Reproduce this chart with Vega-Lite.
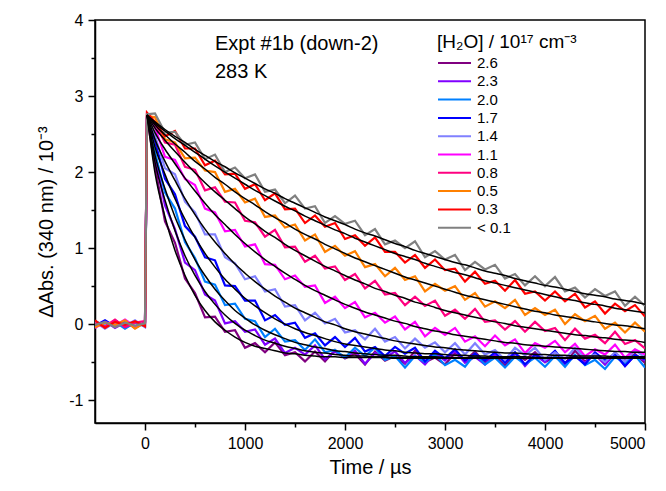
{
"$schema":"https://vega.github.io/schema/vega-lite/v6.json",
"width":550,"height":403,
"autosize":{"type":"none"},
"padding":{"left":95,"top":20,"right":21,"bottom":68},
"config":{"font":"Liberation Sans","view":{"stroke":"#000","strokeWidth":1.5},
"axis":{"grid":false,"domainColor":"#000","domainWidth":1.5,"tickColor":"#000","tickWidth":1.5,"labelColor":"#000","titleColor":"#000","labelFontSize":16,"titleFontSize":20,"titleFontWeight":"normal"}},
"datasets":{"d":[
{"s":"2.6","t":-500,"y":0.02},{"s":"2.6","t":-400,"y":-0.04},{"s":"2.6","t":-300,"y":0.05},{"s":"2.6","t":-200,"y":-0.03},{"s":"2.6","t":-100,"y":0.03},{"s":"2.6","t":0,"y":-0.02},{"s":"2.6","t":20,"y":2.72,"f":2.75},
{"s":"2.6","t":100,"y":2.07,"f":1.99},{"s":"2.6","t":200,"y":1.35,"f":1.41},{"s":"2.6","t":300,"y":1.07,"f":0.97},{"s":"2.6","t":400,"y":0.60,"f":0.64},{"s":"2.6","t":500,"y":0.41,"f":0.38},{"s":"2.6","t":600,"y":0.09,"f":0.18},{"s":"2.6","t":700,"y":0.10,"f":0.03},{"s":"2.6","t":800,"y":-0.10,"f":-0.08},{"s":"2.6","t":900,"y":-0.08,"f":-0.17},{"s":"2.6","t":1000,"y":-0.31,"f":-0.24},
{"s":"2.6","t":1100,"y":-0.25,"f":-0.29},{"s":"2.6","t":1200,"y":-0.37,"f":-0.32},{"s":"2.6","t":1300,"y":-0.24,"f":-0.35},{"s":"2.6","t":1400,"y":-0.41,"f":-0.38},{"s":"2.6","t":1500,"y":-0.37,"f":-0.39},{"s":"2.6","t":1600,"y":-0.49,"f":-0.41},{"s":"2.6","t":1700,"y":-0.36,"f":-0.42},{"s":"2.6","t":1800,"y":-0.49,"f":-0.43},{"s":"2.6","t":1900,"y":-0.34,"f":-0.43},{"s":"2.6","t":2000,"y":-0.45,"f":-0.44},
{"s":"2.6","t":2100,"y":-0.39,"f":-0.44},{"s":"2.6","t":2200,"y":-0.53,"f":-0.44},{"s":"2.6","t":2300,"y":-0.36,"f":-0.44},{"s":"2.6","t":2400,"y":-0.48,"f":-0.44},{"s":"2.6","t":2500,"y":-0.42,"f":-0.45},{"s":"2.6","t":2600,"y":-0.52,"f":-0.45},{"s":"2.6","t":2700,"y":-0.35,"f":-0.45},{"s":"2.6","t":2800,"y":-0.50,"f":-0.45},{"s":"2.6","t":2900,"y":-0.44,"f":-0.45},{"s":"2.6","t":3000,"y":-0.53,"f":-0.45},
{"s":"2.6","t":3100,"y":-0.38,"f":-0.45},{"s":"2.6","t":3200,"y":-0.48,"f":-0.45},{"s":"2.6","t":3300,"y":-0.36,"f":-0.45},{"s":"2.6","t":3400,"y":-0.51,"f":-0.45},{"s":"2.6","t":3500,"y":-0.41,"f":-0.45},{"s":"2.6","t":3600,"y":-0.55,"f":-0.45},{"s":"2.6","t":3700,"y":-0.39,"f":-0.45},{"s":"2.6","t":3800,"y":-0.47,"f":-0.45},{"s":"2.6","t":3900,"y":-0.37,"f":-0.45},{"s":"2.6","t":4000,"y":-0.50,"f":-0.45},
{"s":"2.6","t":4100,"y":-0.43,"f":-0.45},{"s":"2.6","t":4200,"y":-0.52,"f":-0.45},{"s":"2.6","t":4300,"y":-0.35,"f":-0.45},{"s":"2.6","t":4400,"y":-0.49,"f":-0.45},{"s":"2.6","t":4500,"y":-0.40,"f":-0.45},{"s":"2.6","t":4600,"y":-0.53,"f":-0.45},{"s":"2.6","t":4700,"y":-0.38,"f":-0.45},{"s":"2.6","t":4800,"y":-0.48,"f":-0.45},{"s":"2.6","t":4900,"y":-0.39,"f":-0.45},{"s":"2.6","t":5000,"y":-0.51,"f":-0.45},

{"s":"2.3","t":-500,"y":-0.03},{"s":"2.3","t":-400,"y":0.04},{"s":"2.3","t":-300,"y":-0.05},{"s":"2.3","t":-200,"y":0.02},{"s":"2.3","t":-100,"y":-0.04},{"s":"2.3","t":0,"y":0.03},{"s":"2.3","t":20,"y":2.74,"f":2.75},
{"s":"2.3","t":100,"y":2.22,"f":2.13},{"s":"2.3","t":200,"y":1.56,"f":1.63},{"s":"2.3","t":300,"y":1.25,"f":1.23},{"s":"2.3","t":400,"y":0.81,"f":0.90},{"s":"2.3","t":500,"y":0.71,"f":0.64},{"s":"2.3","t":600,"y":0.39,"f":0.43},{"s":"2.3","t":700,"y":0.31,"f":0.26},{"s":"2.3","t":800,"y":0.01,"f":0.12},{"s":"2.3","t":900,"y":0.04,"f":0.01},{"s":"2.3","t":1000,"y":-0.10,"f":-0.08},
{"s":"2.3","t":1100,"y":-0.07,"f":-0.15},{"s":"2.3","t":1200,"y":-0.27,"f":-0.21},{"s":"2.3","t":1300,"y":-0.19,"f":-0.25},{"s":"2.3","t":1400,"y":-0.38,"f":-0.29},{"s":"2.3","t":1500,"y":-0.31,"f":-0.32},{"s":"2.3","t":1600,"y":-0.40,"f":-0.35},{"s":"2.3","t":1700,"y":-0.28,"f":-0.37},{"s":"2.3","t":1800,"y":-0.46,"f":-0.38},{"s":"2.3","t":1900,"y":-0.36,"f":-0.40},{"s":"2.3","t":2000,"y":-0.44,"f":-0.41},
{"s":"2.3","t":2100,"y":-0.35,"f":-0.42},{"s":"2.3","t":2200,"y":-0.52,"f":-0.42},{"s":"2.3","t":2300,"y":-0.38,"f":-0.43},{"s":"2.3","t":2400,"y":-0.44,"f":-0.43},{"s":"2.3","t":2500,"y":-0.36,"f":-0.44},{"s":"2.3","t":2600,"y":-0.51,"f":-0.44},{"s":"2.3","t":2700,"y":-0.41,"f":-0.44},{"s":"2.3","t":2800,"y":-0.53,"f":-0.44},{"s":"2.3","t":2900,"y":-0.38,"f":-0.44},{"s":"2.3","t":3000,"y":-0.48,"f":-0.44},
{"s":"2.3","t":3100,"y":-0.35,"f":-0.45},{"s":"2.3","t":3200,"y":-0.51,"f":-0.45},{"s":"2.3","t":3300,"y":-0.43,"f":-0.45},{"s":"2.3","t":3400,"y":-0.53,"f":-0.45},{"s":"2.3","t":3500,"y":-0.40,"f":-0.45},{"s":"2.3","t":3600,"y":-0.47,"f":-0.45},{"s":"2.3","t":3700,"y":-0.38,"f":-0.45},{"s":"2.3","t":3800,"y":-0.55,"f":-0.45},{"s":"2.3","t":3900,"y":-0.41,"f":-0.45},{"s":"2.3","t":4000,"y":-0.50,"f":-0.45},
{"s":"2.3","t":4100,"y":-0.37,"f":-0.45},{"s":"2.3","t":4200,"y":-0.52,"f":-0.45},{"s":"2.3","t":4300,"y":-0.42,"f":-0.45},{"s":"2.3","t":4400,"y":-0.51,"f":-0.45},{"s":"2.3","t":4500,"y":-0.39,"f":-0.45},{"s":"2.3","t":4600,"y":-0.53,"f":-0.45},{"s":"2.3","t":4700,"y":-0.39,"f":-0.45},{"s":"2.3","t":4800,"y":-0.55,"f":-0.45},{"s":"2.3","t":4900,"y":-0.41,"f":-0.45},{"s":"2.3","t":5000,"y":-0.48,"f":-0.45},

{"s":"2.0","t":-500,"y":0.04},{"s":"2.0","t":-400,"y":-0.02},{"s":"2.0","t":-300,"y":0.03},{"s":"2.0","t":-200,"y":-0.06},{"s":"2.0","t":-100,"y":0.02},{"s":"2.0","t":0,"y":-0.03},{"s":"2.0","t":20,"y":2.71,"f":2.75},
{"s":"2.0","t":100,"y":2.26,"f":2.22},{"s":"2.0","t":200,"y":1.73,"f":1.78},{"s":"2.0","t":300,"y":1.52,"f":1.41},{"s":"2.0","t":400,"y":1.08,"f":1.11},{"s":"2.0","t":500,"y":0.87,"f":0.85},{"s":"2.0","t":600,"y":0.56,"f":0.64},{"s":"2.0","t":700,"y":0.52,"f":0.46},{"s":"2.0","t":800,"y":0.25,"f":0.31},{"s":"2.0","t":900,"y":0.27,"f":0.18},{"s":"2.0","t":1000,"y":0.07,"f":0.08},
{"s":"2.0","t":1100,"y":0.04,"f":-0.01},{"s":"2.0","t":1200,"y":-0.17,"f":-0.08},{"s":"2.0","t":1300,"y":-0.06,"f":-0.14},{"s":"2.0","t":1400,"y":-0.23,"f":-0.19},{"s":"2.0","t":1500,"y":-0.21,"f":-0.24},{"s":"2.0","t":1600,"y":-0.34,"f":-0.27},{"s":"2.0","t":1700,"y":-0.20,"f":-0.30},{"s":"2.0","t":1800,"y":-0.37,"f":-0.32},{"s":"2.0","t":1900,"y":-0.34,"f":-0.35},{"s":"2.0","t":2000,"y":-0.44,"f":-0.36},
{"s":"2.0","t":2100,"y":-0.31,"f":-0.38},{"s":"2.0","t":2200,"y":-0.42,"f":-0.39},{"s":"2.0","t":2300,"y":-0.31,"f":-0.40},{"s":"2.0","t":2400,"y":-0.47,"f":-0.41},{"s":"2.0","t":2500,"y":-0.42,"f":-0.41},{"s":"2.0","t":2600,"y":-0.57,"f":-0.42},{"s":"2.0","t":2700,"y":-0.42,"f":-0.43},{"s":"2.0","t":2800,"y":-0.50,"f":-0.43},{"s":"2.0","t":2900,"y":-0.40,"f":-0.43},{"s":"2.0","t":3000,"y":-0.54,"f":-0.44},
{"s":"2.0","t":3100,"y":-0.47,"f":-0.44},{"s":"2.0","t":3200,"y":-0.56,"f":-0.44},{"s":"2.0","t":3300,"y":-0.39,"f":-0.44},{"s":"2.0","t":3400,"y":-0.53,"f":-0.44},{"s":"2.0","t":3500,"y":-0.44,"f":-0.44},{"s":"2.0","t":3600,"y":-0.57,"f":-0.44},{"s":"2.0","t":3700,"y":-0.43,"f":-0.45},{"s":"2.0","t":3800,"y":-0.53,"f":-0.45},{"s":"2.0","t":3900,"y":-0.44,"f":-0.45},{"s":"2.0","t":4000,"y":-0.56,"f":-0.45},
{"s":"2.0","t":4100,"y":-0.42,"f":-0.45},{"s":"2.0","t":4200,"y":-0.56,"f":-0.45},{"s":"2.0","t":4300,"y":-0.40,"f":-0.45},{"s":"2.0","t":4400,"y":-0.54,"f":-0.45},{"s":"2.0","t":4500,"y":-0.47,"f":-0.45},{"s":"2.0","t":4600,"y":-0.59,"f":-0.45},{"s":"2.0","t":4700,"y":-0.43,"f":-0.45},{"s":"2.0","t":4800,"y":-0.52,"f":-0.45},{"s":"2.0","t":4900,"y":-0.41,"f":-0.45},{"s":"2.0","t":5000,"y":-0.57,"f":-0.45},

{"s":"1.7","t":-500,"y":-0.02},{"s":"1.7","t":-400,"y":0.05},{"s":"1.7","t":-300,"y":-0.03},{"s":"1.7","t":-200,"y":0.04},{"s":"1.7","t":-100,"y":-0.05},{"s":"1.7","t":0,"y":0.02},{"s":"1.7","t":20,"y":2.73,"f":2.75},
{"s":"1.7","t":100,"y":2.41,"f":2.33},{"s":"1.7","t":200,"y":1.91,"f":1.97},{"s":"1.7","t":300,"y":1.71,"f":1.65},{"s":"1.7","t":400,"y":1.29,"f":1.38},{"s":"1.7","t":500,"y":1.15,"f":1.14},{"s":"1.7","t":600,"y":0.88,"f":0.93},{"s":"1.7","t":700,"y":0.84,"f":0.75},{"s":"1.7","t":800,"y":0.51,"f":0.59},{"s":"1.7","t":900,"y":0.50,"f":0.46},{"s":"1.7","t":1000,"y":0.31,"f":0.34},
{"s":"1.7","t":1100,"y":0.31,"f":0.24},{"s":"1.7","t":1200,"y":0.05,"f":0.15},{"s":"1.7","t":1300,"y":0.12,"f":0.07},{"s":"1.7","t":1400,"y":-0.01,"f":0.00},{"s":"1.7","t":1500,"y":0.02,"f":-0.06},{"s":"1.7","t":1600,"y":-0.18,"f":-0.11},{"s":"1.7","t":1700,"y":-0.12,"f":-0.15},{"s":"1.7","t":1800,"y":-0.28,"f":-0.19},{"s":"1.7","t":1900,"y":-0.17,"f":-0.23},{"s":"1.7","t":2000,"y":-0.30,"f":-0.26},
{"s":"1.7","t":2100,"y":-0.18,"f":-0.28},{"s":"1.7","t":2200,"y":-0.36,"f":-0.30},{"s":"1.7","t":2300,"y":-0.30,"f":-0.32},{"s":"1.7","t":2400,"y":-0.42,"f":-0.34},{"s":"1.7","t":2500,"y":-0.30,"f":-0.35},{"s":"1.7","t":2600,"y":-0.39,"f":-0.37},{"s":"1.7","t":2700,"y":-0.31,"f":-0.38},{"s":"1.7","t":2800,"y":-0.49,"f":-0.39},{"s":"1.7","t":2900,"y":-0.35,"f":-0.39},{"s":"1.7","t":3000,"y":-0.45,"f":-0.40},
{"s":"1.7","t":3100,"y":-0.33,"f":-0.41},{"s":"1.7","t":3200,"y":-0.48,"f":-0.41},{"s":"1.7","t":3300,"y":-0.39,"f":-0.42},{"s":"1.7","t":3400,"y":-0.48,"f":-0.42},{"s":"1.7","t":3500,"y":-0.37,"f":-0.43},{"s":"1.7","t":3600,"y":-0.51,"f":-0.43},{"s":"1.7","t":3700,"y":-0.37,"f":-0.43},{"s":"1.7","t":3800,"y":-0.53,"f":-0.43},{"s":"1.7","t":3900,"y":-0.40,"f":-0.44},{"s":"1.7","t":4000,"y":-0.47,"f":-0.44},
{"s":"1.7","t":4100,"y":-0.35,"f":-0.44},{"s":"1.7","t":4200,"y":-0.51,"f":-0.44},{"s":"1.7","t":4300,"y":-0.42,"f":-0.44},{"s":"1.7","t":4400,"y":-0.53,"f":-0.44},{"s":"1.7","t":4500,"y":-0.37,"f":-0.44},{"s":"1.7","t":4600,"y":-0.48,"f":-0.44},{"s":"1.7","t":4700,"y":-0.39,"f":-0.44},{"s":"1.7","t":4800,"y":-0.55,"f":-0.44},{"s":"1.7","t":4900,"y":-0.41,"f":-0.44},{"s":"1.7","t":5000,"y":-0.46,"f":-0.44},

{"s":"1.4","t":-500,"y":0.03},{"s":"1.4","t":-400,"y":-0.06},{"s":"1.4","t":-300,"y":0.02},{"s":"1.4","t":-200,"y":-0.02},{"s":"1.4","t":-100,"y":0.05},{"s":"1.4","t":0,"y":-0.04},{"s":"1.4","t":20,"y":2.70,"f":2.75},
{"s":"1.4","t":100,"y":2.48,"f":2.43},{"s":"1.4","t":200,"y":2.05,"f":2.14},{"s":"1.4","t":300,"y":1.97,"f":1.89},{"s":"1.4","t":400,"y":1.61,"f":1.65},{"s":"1.4","t":500,"y":1.47,"f":1.44},{"s":"1.4","t":600,"y":1.18,"f":1.25},{"s":"1.4","t":700,"y":1.18,"f":1.08},{"s":"1.4","t":800,"y":0.88,"f":0.93},{"s":"1.4","t":900,"y":0.80,"f":0.79},{"s":"1.4","t":1000,"y":0.59,"f":0.67},
{"s":"1.4","t":1100,"y":0.63,"f":0.56},{"s":"1.4","t":1200,"y":0.43,"f":0.46},{"s":"1.4","t":1300,"y":0.46,"f":0.37},{"s":"1.4","t":1400,"y":0.23,"f":0.29},{"s":"1.4","t":1500,"y":0.25,"f":0.21},{"s":"1.4","t":1600,"y":0.05,"f":0.15},{"s":"1.4","t":1700,"y":0.15,"f":0.09},{"s":"1.4","t":1800,"y":0.01,"f":0.03},{"s":"1.4","t":1900,"y":0.07,"f":-0.01},{"s":"1.4","t":2000,"y":-0.11,"f":-0.06},
{"s":"1.4","t":2100,"y":-0.08,"f":-0.10},{"s":"1.4","t":2200,"y":-0.20,"f":-0.13},{"s":"1.4","t":2300,"y":-0.06,"f":-0.16},{"s":"1.4","t":2400,"y":-0.23,"f":-0.19},{"s":"1.4","t":2500,"y":-0.17,"f":-0.22},{"s":"1.4","t":2600,"y":-0.32,"f":-0.24},{"s":"1.4","t":2700,"y":-0.19,"f":-0.26},{"s":"1.4","t":2800,"y":-0.31,"f":-0.28},{"s":"1.4","t":2900,"y":-0.24,"f":-0.30},{"s":"1.4","t":3000,"y":-0.37,"f":-0.31},
{"s":"1.4","t":3100,"y":-0.25,"f":-0.33},{"s":"1.4","t":3200,"y":-0.40,"f":-0.34},{"s":"1.4","t":3300,"y":-0.25,"f":-0.35},{"s":"1.4","t":3400,"y":-0.40,"f":-0.36},{"s":"1.4","t":3500,"y":-0.34,"f":-0.37},{"s":"1.4","t":3600,"y":-0.47,"f":-0.38},{"s":"1.4","t":3700,"y":-0.31,"f":-0.38},{"s":"1.4","t":3800,"y":-0.41,"f":-0.39},{"s":"1.4","t":3900,"y":-0.31,"f":-0.40},{"s":"1.4","t":4000,"y":-0.47,"f":-0.40},
{"s":"1.4","t":4100,"y":-0.37,"f":-0.41},{"s":"1.4","t":4200,"y":-0.46,"f":-0.41},{"s":"1.4","t":4300,"y":-0.31,"f":-0.42},{"s":"1.4","t":4400,"y":-0.45,"f":-0.42},{"s":"1.4","t":4500,"y":-0.40,"f":-0.42},{"s":"1.4","t":4600,"y":-0.50,"f":-0.42},{"s":"1.4","t":4700,"y":-0.37,"f":-0.43},{"s":"1.4","t":4800,"y":-0.49,"f":-0.43},{"s":"1.4","t":4900,"y":-0.34,"f":-0.43},{"s":"1.4","t":5000,"y":-0.44,"f":-0.43},

{"s":"1.1","t":-500,"y":-0.05},{"s":"1.1","t":-400,"y":0.03},{"s":"1.1","t":-300,"y":-0.02},{"s":"1.1","t":-200,"y":0.06},{"s":"1.1","t":-100,"y":-0.03},{"s":"1.1","t":0,"y":0.01},{"s":"1.1","t":20,"y":2.75,"f":2.75},
{"s":"1.1","t":100,"y":2.59,"f":2.52},{"s":"1.1","t":200,"y":2.20,"f":2.30},{"s":"1.1","t":300,"y":2.16,"f":2.11},{"s":"1.1","t":400,"y":1.91,"f":1.92},{"s":"1.1","t":500,"y":1.83,"f":1.75},{"s":"1.1","t":600,"y":1.52,"f":1.59},{"s":"1.1","t":700,"y":1.47,"f":1.44},{"s":"1.1","t":800,"y":1.22,"f":1.31},{"s":"1.1","t":900,"y":1.24,"f":1.18},{"s":"1.1","t":1000,"y":1.02,"f":1.06},
{"s":"1.1","t":1100,"y":1.05,"f":0.95},{"s":"1.1","t":1200,"y":0.79,"f":0.85},{"s":"1.1","t":1300,"y":0.78,"f":0.76},{"s":"1.1","t":1400,"y":0.59,"f":0.67},{"s":"1.1","t":1500,"y":0.64,"f":0.59},{"s":"1.1","t":1600,"y":0.49,"f":0.51},{"s":"1.1","t":1700,"y":0.51,"f":0.44},{"s":"1.1","t":1800,"y":0.28,"f":0.38},{"s":"1.1","t":1900,"y":0.36,"f":0.32},{"s":"1.1","t":2000,"y":0.21,"f":0.26},
{"s":"1.1","t":2100,"y":0.29,"f":0.21},{"s":"1.1","t":2200,"y":0.09,"f":0.16},{"s":"1.1","t":2300,"y":0.15,"f":0.12},{"s":"1.1","t":2400,"y":0.02,"f":0.08},{"s":"1.1","t":2500,"y":0.10,"f":0.04},{"s":"1.1","t":2600,"y":-0.07,"f":0.01},{"s":"1.1","t":2700,"y":0.03,"f":-0.03},{"s":"1.1","t":2800,"y":-0.16,"f":-0.06},{"s":"1.1","t":2900,"y":-0.05,"f":-0.09},{"s":"1.1","t":3000,"y":-0.14,"f":-0.11},
{"s":"1.1","t":3100,"y":-0.05,"f":-0.14},{"s":"1.1","t":3200,"y":-0.23,"f":-0.16},{"s":"1.1","t":3300,"y":-0.16,"f":-0.18},{"s":"1.1","t":3400,"y":-0.29,"f":-0.20},{"s":"1.1","t":3500,"y":-0.15,"f":-0.22},{"s":"1.1","t":3600,"y":-0.28,"f":-0.24},{"s":"1.1","t":3700,"y":-0.20,"f":-0.25},{"s":"1.1","t":3800,"y":-0.38,"f":-0.27},{"s":"1.1","t":3900,"y":-0.25,"f":-0.28},{"s":"1.1","t":4000,"y":-0.31,"f":-0.29},
{"s":"1.1","t":4100,"y":-0.22,"f":-0.30},{"s":"1.1","t":4200,"y":-0.37,"f":-0.31},{"s":"1.1","t":4300,"y":-0.26,"f":-0.32},{"s":"1.1","t":4400,"y":-0.42,"f":-0.33},{"s":"1.1","t":4500,"y":-0.33,"f":-0.34},{"s":"1.1","t":4600,"y":-0.40,"f":-0.35},{"s":"1.1","t":4700,"y":-0.27,"f":-0.36},{"s":"1.1","t":4800,"y":-0.44,"f":-0.36},{"s":"1.1","t":4900,"y":-0.33,"f":-0.37},{"s":"1.1","t":5000,"y":-0.40,"f":-0.37},

{"s":"0.8","t":-500,"y":0.01},{"s":"0.8","t":-400,"y":-0.03},{"s":"0.8","t":-300,"y":0.06},{"s":"0.8","t":-200,"y":-0.04},{"s":"0.8","t":-100,"y":0.02},{"s":"0.8","t":0,"y":0.04},{"s":"0.8","t":20,"y":2.76,"f":2.75},
{"s":"0.8","t":100,"y":2.65,"f":2.58},{"s":"0.8","t":200,"y":2.39,"f":2.42},{"s":"0.8","t":300,"y":2.36,"f":2.27},{"s":"0.8","t":400,"y":2.07,"f":2.13},{"s":"0.8","t":500,"y":2.03,"f":1.99},{"s":"0.8","t":600,"y":1.76,"f":1.86},{"s":"0.8","t":700,"y":1.80,"f":1.74},{"s":"0.8","t":800,"y":1.61,"f":1.63},{"s":"0.8","t":900,"y":1.60,"f":1.52},{"s":"0.8","t":1000,"y":1.36,"f":1.41},
{"s":"0.8","t":1100,"y":1.34,"f":1.32},{"s":"0.8","t":1200,"y":1.15,"f":1.22},{"s":"0.8","t":1300,"y":1.24,"f":1.14},{"s":"0.8","t":1400,"y":1.01,"f":1.05},{"s":"0.8","t":1500,"y":1.02,"f":0.97},{"s":"0.8","t":1600,"y":0.82,"f":0.90},{"s":"0.8","t":1700,"y":0.90,"f":0.83},{"s":"0.8","t":1800,"y":0.73,"f":0.76},{"s":"0.8","t":1900,"y":0.76,"f":0.70},{"s":"0.8","t":2000,"y":0.58,"f":0.64},
{"s":"0.8","t":2100,"y":0.66,"f":0.58},{"s":"0.8","t":2200,"y":0.47,"f":0.53},{"s":"0.8","t":2300,"y":0.57,"f":0.47},{"s":"0.8","t":2400,"y":0.39,"f":0.43},{"s":"0.8","t":2500,"y":0.41,"f":0.38},{"s":"0.8","t":2600,"y":0.25,"f":0.34},{"s":"0.8","t":2700,"y":0.36,"f":0.29},{"s":"0.8","t":2800,"y":0.24,"f":0.26},{"s":"0.8","t":2900,"y":0.31,"f":0.22},{"s":"0.8","t":3000,"y":0.11,"f":0.18},
{"s":"0.8","t":3100,"y":0.19,"f":0.15},{"s":"0.8","t":3200,"y":0.07,"f":0.12},{"s":"0.8","t":3300,"y":0.20,"f":0.09},{"s":"0.8","t":3400,"y":0.03,"f":0.06},{"s":"0.8","t":3500,"y":0.05,"f":0.03},{"s":"0.8","t":3600,"y":-0.07,"f":0.01},{"s":"0.8","t":3700,"y":0.04,"f":-0.02},{"s":"0.8","t":3800,"y":-0.10,"f":-0.04},{"s":"0.8","t":3900,"y":0.03,"f":-0.06},{"s":"0.8","t":4000,"y":-0.09,"f":-0.08},
{"s":"0.8","t":4100,"y":-0.05,"f":-0.10},{"s":"0.8","t":4200,"y":-0.21,"f":-0.12},{"s":"0.8","t":4300,"y":-0.06,"f":-0.14},{"s":"0.8","t":4400,"y":-0.19,"f":-0.15},{"s":"0.8","t":4500,"y":-0.14,"f":-0.17},{"s":"0.8","t":4600,"y":-0.25,"f":-0.18},{"s":"0.8","t":4700,"y":-0.10,"f":-0.20},{"s":"0.8","t":4800,"y":-0.26,"f":-0.21},{"s":"0.8","t":4900,"y":-0.21,"f":-0.22},{"s":"0.8","t":5000,"y":-0.32,"f":-0.24},

{"s":"0.5","t":-500,"y":-0.04},{"s":"0.5","t":-400,"y":0.02},{"s":"0.5","t":-300,"y":-0.01},{"s":"0.5","t":-200,"y":0.05},{"s":"0.5","t":-100,"y":-0.06},{"s":"0.5","t":0,"y":0.02},{"s":"0.5","t":20,"y":2.74,"f":2.75},
{"s":"0.5","t":100,"y":2.72,"f":2.62},{"s":"0.5","t":200,"y":2.43,"f":2.49},{"s":"0.5","t":300,"y":2.39,"f":2.37},{"s":"0.5","t":400,"y":2.18,"f":2.26},{"s":"0.5","t":500,"y":2.19,"f":2.14},{"s":"0.5","t":600,"y":2.02,"f":2.04},{"s":"0.5","t":700,"y":2.00,"f":1.93},{"s":"0.5","t":800,"y":1.74,"f":1.84},{"s":"0.5","t":900,"y":1.78,"f":1.74},{"s":"0.5","t":1000,"y":1.60,"f":1.65},
{"s":"0.5","t":1100,"y":1.65,"f":1.57},{"s":"0.5","t":1200,"y":1.41,"f":1.48},{"s":"0.5","t":1300,"y":1.43,"f":1.40},{"s":"0.5","t":1400,"y":1.27,"f":1.33},{"s":"0.5","t":1500,"y":1.31,"f":1.25},{"s":"0.5","t":1600,"y":1.10,"f":1.18},{"s":"0.5","t":1700,"y":1.18,"f":1.12},{"s":"0.5","t":1800,"y":0.95,"f":1.05},{"s":"0.5","t":1900,"y":1.03,"f":0.99},{"s":"0.5","t":2000,"y":0.90,"f":0.93},
{"s":"0.5","t":2100,"y":0.96,"f":0.87},{"s":"0.5","t":2200,"y":0.75,"f":0.82},{"s":"0.5","t":2300,"y":0.79,"f":0.77},{"s":"0.5","t":2400,"y":0.63,"f":0.72},{"s":"0.5","t":2500,"y":0.74,"f":0.67},{"s":"0.5","t":2600,"y":0.58,"f":0.62},{"s":"0.5","t":2700,"y":0.63,"f":0.58},{"s":"0.5","t":2800,"y":0.43,"f":0.54},{"s":"0.5","t":2900,"y":0.53,"f":0.50},{"s":"0.5","t":3000,"y":0.44,"f":0.46},
{"s":"0.5","t":3100,"y":0.50,"f":0.42},{"s":"0.5","t":3200,"y":0.32,"f":0.38},{"s":"0.5","t":3300,"y":0.41,"f":0.35},{"s":"0.5","t":3400,"y":0.23,"f":0.32},{"s":"0.5","t":3500,"y":0.30,"f":0.29},{"s":"0.5","t":3600,"y":0.21,"f":0.26},{"s":"0.5","t":3700,"y":0.32,"f":0.23},{"s":"0.5","t":3800,"y":0.12,"f":0.20},{"s":"0.5","t":3900,"y":0.21,"f":0.17},{"s":"0.5","t":4000,"y":0.12,"f":0.15},
{"s":"0.5","t":4100,"y":0.19,"f":0.12},{"s":"0.5","t":4200,"y":0.00,"f":0.10},{"s":"0.5","t":4300,"y":0.13,"f":0.08},{"s":"0.5","t":4400,"y":0.04,"f":0.05},{"s":"0.5","t":4500,"y":0.11,"f":0.03},{"s":"0.5","t":4600,"y":-0.06,"f":0.01},{"s":"0.5","t":4700,"y":0.02,"f":-0.01},{"s":"0.5","t":4800,"y":-0.11,"f":-0.02},{"s":"0.5","t":4900,"y":0.02,"f":-0.04},{"s":"0.5","t":5000,"y":-0.10,"f":-0.06},

{"s":"0.3","t":-500,"y":0.05},{"s":"0.3","t":-400,"y":-0.05},{"s":"0.3","t":-300,"y":0.03},{"s":"0.3","t":-200,"y":-0.01},{"s":"0.3","t":-100,"y":0.04},{"s":"0.3","t":0,"y":-0.03},{"s":"0.3","t":20,"y":2.78,"f":2.75},
{"s":"0.3","t":100,"y":2.66,"f":2.64},{"s":"0.3","t":200,"y":2.47,"f":2.54},{"s":"0.3","t":300,"y":2.54,"f":2.44},{"s":"0.3","t":400,"y":2.31,"f":2.35},{"s":"0.3","t":500,"y":2.31,"f":2.26},{"s":"0.3","t":600,"y":2.09,"f":2.17},{"s":"0.3","t":700,"y":2.15,"f":2.08},{"s":"0.3","t":800,"y":1.97,"f":2.00},{"s":"0.3","t":900,"y":1.98,"f":1.92},{"s":"0.3","t":1000,"y":1.78,"f":1.84},
{"s":"0.3","t":1100,"y":1.84,"f":1.76},{"s":"0.3","t":1200,"y":1.63,"f":1.69},{"s":"0.3","t":1300,"y":1.72,"f":1.62},{"s":"0.3","t":1400,"y":1.51,"f":1.55},{"s":"0.3","t":1500,"y":1.52,"f":1.49},{"s":"0.3","t":1600,"y":1.33,"f":1.42},{"s":"0.3","t":1700,"y":1.43,"f":1.36},{"s":"0.3","t":1800,"y":1.28,"f":1.30},{"s":"0.3","t":1900,"y":1.33,"f":1.24},{"s":"0.3","t":2000,"y":1.12,"f":1.19},
{"s":"0.3","t":2100,"y":1.17,"f":1.13},{"s":"0.3","t":2200,"y":1.03,"f":1.08},{"s":"0.3","t":2300,"y":1.14,"f":1.03},{"s":"0.3","t":2400,"y":0.95,"f":0.98},{"s":"0.3","t":2500,"y":0.95,"f":0.93},{"s":"0.3","t":2600,"y":0.81,"f":0.89},{"s":"0.3","t":2700,"y":0.91,"f":0.85},{"s":"0.3","t":2800,"y":0.74,"f":0.80},{"s":"0.3","t":2900,"y":0.85,"f":0.76},{"s":"0.3","t":3000,"y":0.71,"f":0.72},
{"s":"0.3","t":3100,"y":0.73,"f":0.68},{"s":"0.3","t":3200,"y":0.56,"f":0.65},{"s":"0.3","t":3300,"y":0.69,"f":0.61},{"s":"0.3","t":3400,"y":0.53,"f":0.57},{"s":"0.3","t":3500,"y":0.57,"f":0.54},{"s":"0.3","t":3600,"y":0.44,"f":0.51},{"s":"0.3","t":3700,"y":0.58,"f":0.48},{"s":"0.3","t":3800,"y":0.40,"f":0.45},{"s":"0.3","t":3900,"y":0.43,"f":0.42},{"s":"0.3","t":4000,"y":0.31,"f":0.39},
{"s":"0.3","t":4100,"y":0.43,"f":0.36},{"s":"0.3","t":4200,"y":0.30,"f":0.33},{"s":"0.3","t":4300,"y":0.40,"f":0.31},{"s":"0.3","t":4400,"y":0.22,"f":0.28},{"s":"0.3","t":4500,"y":0.30,"f":0.26},{"s":"0.3","t":4600,"y":0.14,"f":0.24},{"s":"0.3","t":4700,"y":0.27,"f":0.21},{"s":"0.3","t":4800,"y":0.17,"f":0.19},{"s":"0.3","t":4900,"y":0.25,"f":0.17},{"s":"0.3","t":5000,"y":0.10,"f":0.15},

{"s":"< 0.1","t":-500,"y":-0.01},{"s":"< 0.1","t":-400,"y":0.03},{"s":"< 0.1","t":-300,"y":-0.04},{"s":"< 0.1","t":-200,"y":0.02},{"s":"< 0.1","t":-100,"y":-0.02},{"s":"< 0.1","t":0,"y":0.01},{"s":"< 0.1","t":20,"y":2.76,"f":2.75},
{"s":"< 0.1","t":100,"y":2.77,"f":2.66},{"s":"< 0.1","t":200,"y":2.52,"f":2.56},{"s":"< 0.1","t":300,"y":2.53,"f":2.47},{"s":"< 0.1","t":400,"y":2.36,"f":2.39},{"s":"< 0.1","t":500,"y":2.39,"f":2.30},{"s":"< 0.1","t":600,"y":2.17,"f":2.22},{"s":"< 0.1","t":700,"y":2.23,"f":2.14},{"s":"< 0.1","t":800,"y":2.00,"f":2.07},{"s":"< 0.1","t":900,"y":2.06,"f":1.99},{"s":"< 0.1","t":1000,"y":1.92,"f":1.92},
{"s":"< 0.1","t":1100,"y":1.97,"f":1.85},{"s":"< 0.1","t":1200,"y":1.74,"f":1.78},{"s":"< 0.1","t":1300,"y":1.77,"f":1.72},{"s":"< 0.1","t":1400,"y":1.59,"f":1.65},{"s":"< 0.1","t":1500,"y":1.69,"f":1.59},{"s":"< 0.1","t":1600,"y":1.52,"f":1.53},{"s":"< 0.1","t":1700,"y":1.55,"f":1.47},{"s":"< 0.1","t":1800,"y":1.33,"f":1.41},{"s":"< 0.1","t":1900,"y":1.42,"f":1.36},{"s":"< 0.1","t":2000,"y":1.32,"f":1.31},
{"s":"< 0.1","t":2100,"y":1.36,"f":1.25},{"s":"< 0.1","t":2200,"y":1.17,"f":1.20},{"s":"< 0.1","t":2300,"y":1.25,"f":1.16},{"s":"< 0.1","t":2400,"y":1.05,"f":1.11},{"s":"< 0.1","t":2500,"y":1.10,"f":1.06},{"s":"< 0.1","t":2600,"y":1.00,"f":1.02},{"s":"< 0.1","t":2700,"y":1.09,"f":0.97},{"s":"< 0.1","t":2800,"y":0.88,"f":0.93},{"s":"< 0.1","t":2900,"y":0.96,"f":0.89},{"s":"< 0.1","t":3000,"y":0.85,"f":0.85},
{"s":"< 0.1","t":3100,"y":0.91,"f":0.81},{"s":"< 0.1","t":3200,"y":0.71,"f":0.78},{"s":"< 0.1","t":3300,"y":0.82,"f":0.74},{"s":"< 0.1","t":3400,"y":0.72,"f":0.70},{"s":"< 0.1","t":3500,"y":0.78,"f":0.67},{"s":"< 0.1","t":3600,"y":0.60,"f":0.64},{"s":"< 0.1","t":3700,"y":0.66,"f":0.60},{"s":"< 0.1","t":3800,"y":0.51,"f":0.57},{"s":"< 0.1","t":3900,"y":0.63,"f":0.54},{"s":"< 0.1","t":4000,"y":0.50,"f":0.51},
{"s":"< 0.1","t":4100,"y":0.62,"f":0.49},{"s":"< 0.1","t":4200,"y":0.43,"f":0.46},{"s":"< 0.1","t":4300,"y":0.48,"f":0.43},{"s":"< 0.1","t":4400,"y":0.35,"f":0.40},{"s":"< 0.1","t":4500,"y":0.46,"f":0.38},{"s":"< 0.1","t":4600,"y":0.37,"f":0.36},{"s":"< 0.1","t":4700,"y":0.43,"f":0.33},{"s":"< 0.1","t":4800,"y":0.24,"f":0.31},{"s":"< 0.1","t":4900,"y":0.36,"f":0.29},{"s":"< 0.1","t":5000,"y":0.24,"f":0.26}
]},
"data":{"name":"d"},
"resolve":{"axis":{"x":"independent","y":"independent"}},
"layer":[
{"mark":{"type":"line","strokeWidth":2.2,"clip":true},
"encoding":{
"x":{"field":"t","type":"quantitative","scale":{"domain":[-500,5000],"nice":false,"zero":false},
"axis":{"orient":"bottom","values":[0,1000,2000,3000,4000,5000],"labelExpr":"''+datum.value","tickSize":7,"labelPadding":5,"title":"Time / µs","titlePadding":6}},
"y":{"field":"y","type":"quantitative","scale":{"domain":[-1.3,4],"nice":false,"zero":false},
"axis":{"orient":"left","values":[-1,0,1,2,3,4],"labelExpr":"''+datum.value","tickSize":7,"labelPadding":5,"title":"ΔAbs. (340 nm) / 10⁻³","titlePadding":12}},
"color":{"field":"s","type":"nominal",
"scale":{"domain":["2.6","2.3","2.0","1.7","1.4","1.1","0.8","0.5","0.3","< 0.1"],"range":["#800080","#8000FF","#0080FF","#0000FF","#8080FF","#FF00FF","#FF0080","#FF8000","#FF0000","#808080"]},
"legend":{"orient":"none","legendX":342,"legendY":13,"title":"[H₂O] / 10¹⁷ cm⁻³","titleFontSize":19,"titleFontWeight":"normal","titleColor":"#000","labelFontSize":15,"labelColor":"#000","symbolType":"stroke","symbolSize":1089,"symbolStrokeWidth":2,"clipHeight":16,"rowPadding":2.3,"titlePadding":3,"labelOffset":5,"padding":0}}}},
{"transform":[{"filter":"isValid(datum.f)"}],
"mark":{"type":"line","color":"#000","strokeWidth":1.5,"interpolate":"monotone","clip":true},
"encoding":{
"x":{"field":"t","type":"quantitative","axis":{"orient":"bottom","values":[500,1500,2500,3500,4500],"tickSize":4,"labels":false,"domain":false,"title":null}},
"y":{"field":"f","type":"quantitative","axis":{"orient":"left","values":[-0.5,0.5,1.5,2.5,3.5],"tickSize":4,"labels":false,"domain":false,"title":null}},
"detail":{"field":"s","type":"nominal"}}},
{"data":{"values":[{}]},"mark":{"type":"text","align":"left","baseline":"middle","fontSize":20,"color":"#000"},
"encoding":{"x":{"datum":700,"type":"quantitative","axis":null},"y":{"datum":3.69,"type":"quantitative","axis":null},"text":{"value":"Expt #1b (down-2)"}}},
{"data":{"values":[{}]},"mark":{"type":"text","align":"left","baseline":"middle","fontSize":20,"color":"#000"},
"encoding":{"x":{"datum":700,"type":"quantitative","axis":null},"y":{"datum":3.31,"type":"quantitative","axis":null},"text":{"value":"283 K"}}}
]
}
